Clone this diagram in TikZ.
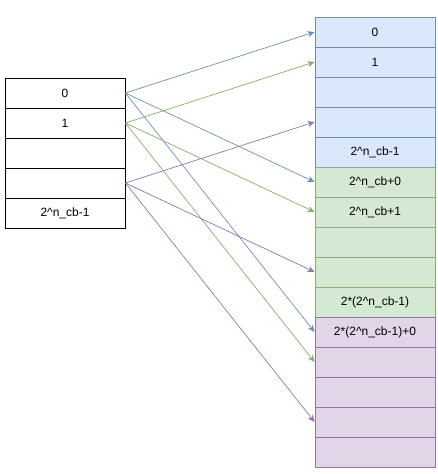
\documentclass[tikz,border=0pt]{standalone}
\usepackage{fontspec}
\setmainfont{Liberation Sans}
\usepackage{tikz}
\usetikzlibrary{arrows.meta,positioning}
\definecolor{bluefill}{HTML}{DAE8FC}
\definecolor{blueline}{HTML}{6C8EBF}
\definecolor{greenfill}{HTML}{D5E8D4}
\definecolor{greenline}{HTML}{82B366}
\definecolor{purplefill}{HTML}{E1D5E7}
\definecolor{purpleline}{HTML}{9673A6}
\tikzset{cell/.style={draw,rectangle,minimum width=120pt,minimum height=30pt,inner sep=0pt,line width=0.8pt,font=\fontsize{12}{14}\selectfont}}
\tikzset{link/.style={line width=0.7pt,-{Stealth[length=7pt,width=6pt,inset=2pt]}}}

\begin{document}
\begin{tikzpicture}[x=1pt,y=-1pt]

\useasboundingbox (0,0) rectangle (438,474);

% left column
\node[cell] (l0) at (65,93) {0};
\node[cell] (l1) at (65,123) {1};
\node[cell] (l2) at (65,153) {};
\node[cell] (l3) at (65,183) {};
\node[cell] (l4) at (65,213) {2\textasciicircum n\_cb-1};

% right column
\foreach \i in {0,...,4}
{
\node[cell,fill=bluefill,draw=blueline] (r\i) at (375,32+30*\i) {};
}
\foreach \i in {5,...,9}
{
\node[cell,fill=greenfill,draw=greenline] (r\i) at (375,32+30*\i) {};
}
\foreach \i in {10,...,14}
{
\node[cell,fill=purplefill,draw=purpleline] (r\i) at (375,32+30*\i) {};
}

\node[font=\fontsize{12}{14}\selectfont] at (r0) {0};
\node[font=\fontsize{12}{14}\selectfont] at (r1) {1};
\node[font=\fontsize{12}{14}\selectfont] at (r4) {2\textasciicircum n\_cb-1};
\node[font=\fontsize{12}{14}\selectfont] at (r5) {2\textasciicircum n\_cb+0};
\node[font=\fontsize{12}{14}\selectfont] at (r6) {2\textasciicircum n\_cb+1};
\node[font=\fontsize{12}{14}\selectfont] at (r9) {2*(2\textasciicircum n\_cb-1)};
\node[font=\fontsize{12}{14}\selectfont] at (r10) {2*(2\textasciicircum n\_cb-1)+0};

\foreach \s/\t/\c in {0/0/blueline,0/5/blueline,0/10/blueline,
                      1/1/greenline,1/6/greenline,1/11/greenline,
                      3/3/purpleline,3/8/purpleline,3/13/purpleline}
{
\draw[link,\c] (l\s.east) -- (r\t.west);
}

\end{tikzpicture}
\end{document}
